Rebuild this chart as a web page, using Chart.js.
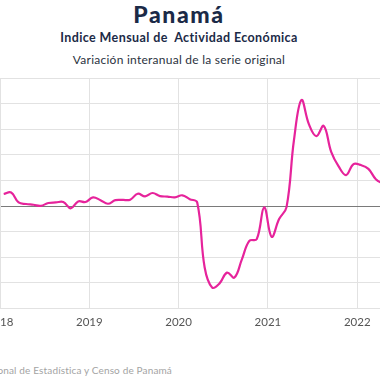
<!DOCTYPE html>
<html>
<head>
<meta charset="utf-8">
<script src="https://cdn.jsdelivr.net/npm/chart.js@4"></script>
<style>
  html, body { margin: 0; padding: 0; background: #fff; }
  body { width: 380px; height: 380px; overflow: hidden; position: relative; }
  .t { position: absolute; white-space: pre; font-family: Lato, "Noto Sans", sans-serif; }
  #title { left: 0; width: 358px; text-align: center; top: 1px; font-size: 23px; line-height: 26px; font-weight: 900; color: #1b2a47; letter-spacing: 1.6px; }
  #sub1 { left: 0; width: 358px; text-align: center; top: 30px; font-size: 12.5px; line-height: 15px; font-weight: 700; color: #1b2a47; letter-spacing: 0.4px; }
  #sub2 { left: 0; width: 358px; text-align: center; top: 52px; font-size: 12px; line-height: 15px; font-weight: 400; color: #2b3240; letter-spacing: 0.25px; }
  #src { right: 208px; top: 364px; font-size: 10px; line-height: 13px; color: #a3a3a3; letter-spacing: 0.15px; }
  #c { position: absolute; left: -40px; top: 0; }
</style>
</head>
<body>
<div class="t" id="title">Panamá</div>
<div class="t" id="sub1">Indice Mensual de  Actividad Económica</div>
<div class="t" id="sub2">Variación interanual de la serie original</div>
<div class="t" id="src">Fuente: Instituto Nacional de Estadística y Censo de Panamá</div>
<canvas id="c" width="427" height="380"></canvas>
<script>
// Year-on-year variation (%), monthly, by year
const years = [2018, 2019, 2020, 2021, 2022];
const values2018 = [4.7, 5.3, 1.4, 0.8, 0.5, 0.1, 1.2, 1.4, 1.6, -0.9, 1.8, 1.6];
const values2019 = [3.4, 2.3, 0.9, 2.3, 2.4, 2.5, 4.8, 3.8, 5.1, 3.9, 3.7, 3.4];
const values2020 = [4.2, 2.7, 1.4, -24, -31.8, -30.2, -26, -27.9, -20.8, -13.6, -12.9, -0.5];
const values2021 = [-12, -5.1, -0.4, 25.8, 41.4, 32, 27.3, 31.3, 21.2, 15.5, 12.1, 16.4];
const values2022 = [16, 14.5, 10.5, 8.6];
const yearTicks = [2018, 2019, 2020, 2021, 2022];
const yTicks = [-40, -30, -20, -10, 0, 10, 20, 30, 40, 50];

const byYear = [values2018, values2019, values2020, values2021, values2022];
const points = [];
byYear.forEach((arr, k) => {
  arr.forEach((v, m) => points.push({ x: years[k] + (m + 0.5) / 12, y: v }));
});

const gridCol = '#e2e2e2';

new Chart(document.getElementById('c'), {
  type: 'line',
  data: {
    datasets: [{
      data: points,
      borderColor: '#e6239b',
      borderWidth: 2.2,
      pointRadius: 0,
      tension: 0.4,
      fill: false
    }]
  },
  options: {
    responsive: false,
    animation: false,
    layout: { padding: { top: 78, bottom: 41.5, left: 0, right: 0 } },
    plugins: { legend: { display: false }, tooltip: { enabled: false } },
    scales: {
      x: {
        type: 'linear',
        min: 2018,
        max: 2022.3333,
        afterBuildTicks: (s) => { s.ticks = yearTicks.map(v => ({ value: v })); },
        afterFit: (s) => { s.height = 30; },
        grid: { color: gridCol, drawTicks: false, lineWidth: 1 },
        border: { color: gridCol },
        ticks: {
          padding: 7,
          color: '#555',
          font: { family: 'Lato, "Noto Sans", sans-serif', size: 11.5 },
          callback: (v) => String(v)
        }
      },
      y: {
        min: -40,
        max: 50,
        afterBuildTicks: (s) => { s.ticks = yTicks.map(v => ({ value: v })); },
        afterFit: (s) => { s.width = 40; },
        grid: {
          drawTicks: false,
          color: (ctx) => (ctx.tick && ctx.tick.value === 0) ? '#7a7a7a' : gridCol,
          lineWidth: 1
        },
        border: { color: gridCol },
        ticks: { color: '#555', font: { size: 10 }, padding: 6 }
      }
    }
  }
});
</script>
</body>
</html>
